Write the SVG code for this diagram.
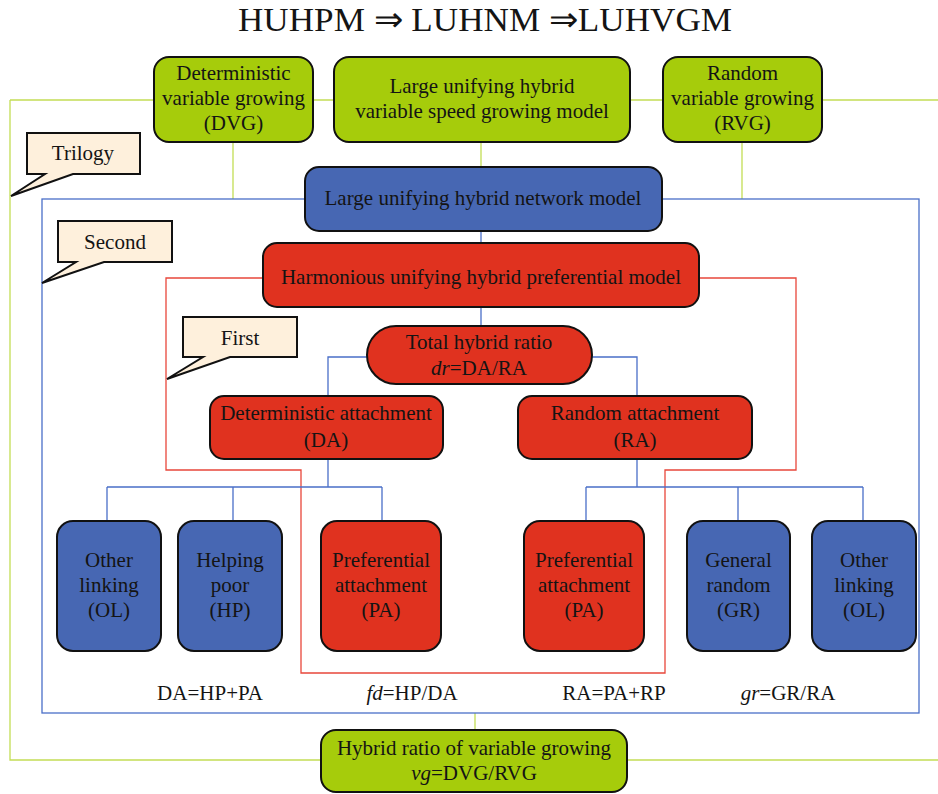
<svg xmlns="http://www.w3.org/2000/svg" width="938" height="794" viewBox="0 0 938 794">
<style>
text{font-family:"Liberation Serif","Times New Roman",serif;font-size:21px;fill:#141414;text-anchor:middle}
text.title{font-size:34px}
.g{fill:#a6cc0b;stroke:#111;stroke-width:2}
.b{fill:#4767b3;stroke:#111;stroke-width:2}
.r{fill:#e0321f;stroke:#111;stroke-width:2}
.c{fill:#fef0dc;stroke:#111;stroke-width:2;stroke-linejoin:miter}
.lg{fill:none;stroke:#c3dd55;stroke-width:1.3}
.lb{fill:none;stroke:#4a6fc8;stroke-width:1.3}
.lr{fill:none;stroke:#e8473b;stroke-width:1.3}
.i{font-style:italic}
</style>
<rect width="938" height="794" fill="#fff"/>
<text class="title" x="485" y="31" textLength="494" lengthAdjust="spacingAndGlyphs">HUHPM ⇒ LUHNM ⇒LUHVGM</text>
<g id="connectors">
<path class="lg" d="M10,100 H938 M10,100 V760 H938 M233,142 V199 M481,142 V167 M742,142 V199 M475,713 V730"/>
<rect class="lb" x="42" y="199" width="877" height="514"/>
<path class="lr" d="M166,278 H796 V470 H665 V673 H301 V470 H166 Z"/>
<path class="lb" d="M481,231 V243 M481,307 V326 M367,357 H328 V396 M592,357 H637 V396 M328,459 V487 M107,487 H382 M107,487 V521 M233,487 V521 M382,487 V521 M637,459 V487 M586,487 H863 M586,487 V521 M738,487 V521 M863,487 V521"/>
</g>
<g id="trilogy"><path class="c" d="M27,133 H140 V174 H73 L11,196 L45,174 H27 Z"/><text x="83" y="160">Trilogy</text></g>
<g id="second"><path class="c" d="M58,221 H172 V262 H104 L42,283 L76,262 H58 Z"/><text x="115" y="249">Second</text></g>
<g id="first"><path class="c" d="M183,317 H297 V357 H230 L167,379 L203,357 H183 Z"/><text x="240" y="345">First</text></g>
<g id="dvg"><rect class="g" x="154" y="57" width="159" height="85" rx="15"/><text x="233.5" y="80">Deterministic</text><text x="233.5" y="105">variable growing</text><text x="233.5" y="130">(DVG)</text></g>
<g id="luhvgm"><rect class="g" x="334" y="57" width="296" height="85" rx="15"/><text x="482" y="93">Large unifying hybrid</text><text x="482" y="118">variable speed growing model</text></g>
<g id="rvg"><rect class="g" x="663" y="57" width="159" height="85" rx="15"/><text x="742.5" y="80">Random</text><text x="742.5" y="105">variable growing</text><text x="742.5" y="130">(RVG)</text></g>
<g id="luhnm"><rect class="b" x="305" y="167" width="357" height="64" rx="14"/><text x="483" y="205">Large unifying hybrid network model</text></g>
<g id="huhpm"><rect class="r" x="263" y="243" width="436" height="64" rx="14"/><text x="481" y="284">Harmonious unifying hybrid preferential model</text></g>
<g id="total"><rect class="r" x="367" y="326" width="225" height="58" rx="29"/><text x="479" y="349">Total hybrid ratio</text><text x="479" y="375"><tspan class="i">dr</tspan>=DA/RA</text></g>
<g id="da"><rect class="r" x="210" y="396" width="233" height="63" rx="14"/><text x="326" y="420">Deterministic attachment</text><text x="326" y="447">(DA)</text></g>
<g id="ra"><rect class="r" x="518" y="396" width="234" height="63" rx="14"/><text x="635" y="420">Random attachment</text><text x="635" y="447">(RA)</text></g>
<g id="ol1"><rect class="b" x="57" y="521" width="104" height="130" rx="16"/><text x="109" y="567">Other</text><text x="109" y="592">linking</text><text x="109" y="617">(OL)</text></g>
<g id="hp"><rect class="b" x="178" y="521" width="104" height="130" rx="16"/><text x="230" y="567">Helping</text><text x="230" y="592">poor</text><text x="230" y="617">(HP)</text></g>
<g id="pa1"><rect class="r" x="321" y="521" width="120" height="130" rx="16"/><text x="381" y="567">Preferential</text><text x="381" y="592">attachment</text><text x="381" y="617">(PA)</text></g>
<g id="pa2"><rect class="r" x="524" y="521" width="120" height="130" rx="16"/><text x="584" y="567">Preferential</text><text x="584" y="592">attachment</text><text x="584" y="617">(PA)</text></g>
<g id="gr"><rect class="b" x="687" y="521" width="103" height="130" rx="16"/><text x="738.5" y="567">General</text><text x="738.5" y="592">random</text><text x="738.5" y="617">(GR)</text></g>
<g id="ol2"><rect class="b" x="812" y="521" width="104" height="130" rx="16"/><text x="864" y="567">Other</text><text x="864" y="592">linking</text><text x="864" y="617">(OL)</text></g>
<g id="formulas">
<text x="210" y="700">DA=HP+PA</text>
<text x="412" y="700"><tspan class="i">fd</tspan>=HP/DA</text>
<text x="614" y="700">RA=PA+RP</text>
<text x="788" y="700"><tspan class="i">gr</tspan>=GR/RA</text>
</g>
<g id="hvg"><rect class="g" x="321" y="730" width="306" height="62" rx="15"/><text x="474" y="755">Hybrid ratio of variable growing</text><text x="474" y="780"><tspan class="i">vg</tspan>=DVG/RVG</text></g>
</svg>
